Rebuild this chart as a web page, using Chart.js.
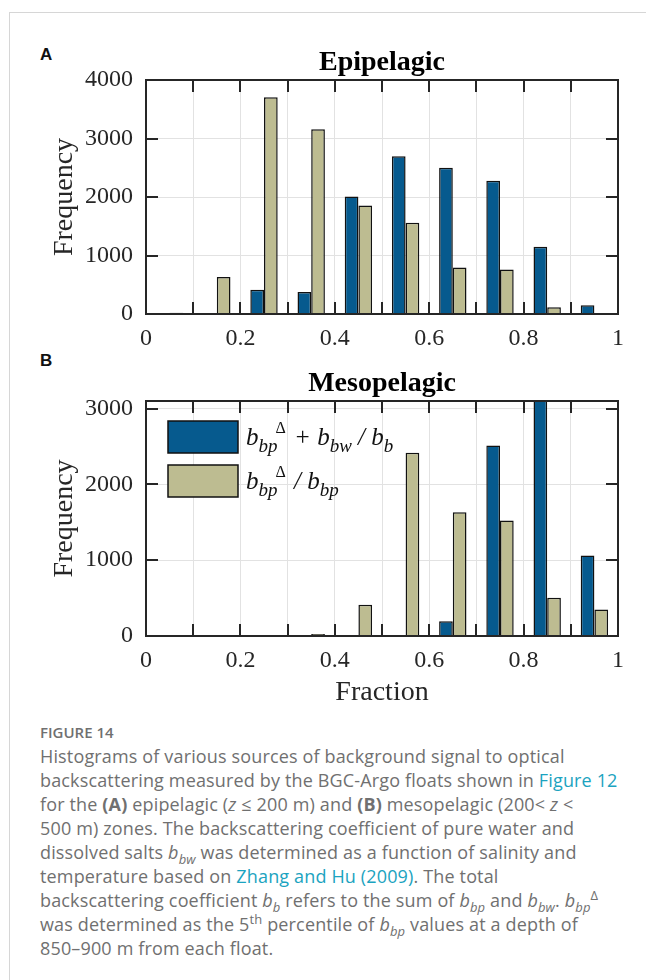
<!DOCTYPE html>
<html>
<head>
<meta charset="utf-8">
<script src="https://cdn.jsdelivr.net/npm/chart.js@4.4.1/dist/chart.umd.min.js"></script>
<style>
  body { margin: 0; width: 646px; height: 980px; background: #fff; position: relative; overflow: hidden; }
  .frame { position: absolute; left: 9px; top: 12px; right: 0; bottom: 0; border-top: 1px solid #d6d6d6; border-left: 1px solid #d6d6d6; }
  .panel-label { position: absolute; left: 40px; font: bold 17px "Liberation Sans", Arial, sans-serif; color: #111; line-height: 20px; }
  canvas { position: absolute; left: 0; }
  #caption { position: absolute; left: 40px; top: 720px; font-family: "Open Sans", sans-serif; font-size: 18px; letter-spacing: 0.15px; line-height: 24px; color: #707070; white-space: nowrap; }
  #caption .fig { font-size: 15px; font-weight: 600; letter-spacing: 0; }
  #caption a { color: #1ba3c0; text-decoration: none; }
  #caption sub, #caption sup { font-size: 0.72em; line-height: 0; }
</style>
</head>
<body>
<div class="frame"></div>
<div class="panel-label" style="top:45px">A</div>
<canvas id="epiChart" width="646" height="310" style="top:40px"></canvas>
<div class="panel-label" style="top:351px">B</div>
<canvas id="mesoChart" width="646" height="360" style="top:355px"></canvas>
<div id="caption">
  <div class="fig">FIGURE 14</div>
  Histograms of various sources of background signal to optical<br>
  backscattering measured by the BGC-Argo floats shown in <a>Figure 12</a><br>
  for the <b>(A)</b> epipelagic (<i>z</i> &le; 200 m) and <b>(B)</b> mesopelagic (200&lt; <i>z</i> &lt;<br>
  500 m) zones. The backscattering coefficient of pure water and<br>
  dissolved salts <i>b<sub>bw</sub></i> was determined as a function of salinity and<br>
  temperature based on <a>Zhang and Hu (2009)</a>. The total<br>
  backscattering coefficient <i>b<sub>b</sub></i> refers to the sum of <i>b<sub>bp</sub></i> and <i>b<sub>bw</sub></i>. <i>b<sub>bp</sub></i><sup>&Delta;</sup><br>
  was determined as the 5<sup>th</sup> percentile of <i>b<sub>bp</sub></i> values at a depth of<br>
  850&ndash;900 m from each float.
</div>
<script>
// histogram bins (fraction), 0.1 wide
const binCenters = [0.05, 0.15, 0.25, 0.35, 0.45, 0.55, 0.65, 0.75, 0.85, 0.95];

// (bbp_delta + bbw) / bb  and  bbp_delta / bbp
const epiTotal = [5, 5, 415, 376, 2009, 2697, 2498, 2276, 1149, 148];
const epiParticle = [20, 632, 3704, 3158, 1855, 1559, 797, 762, 114, 5];
const mesoTotal = [5, 5, 5, 5, 5, 5, 193, 2513, 3400, 1061];
const mesoParticle = [5, 5, 5, 26, 412, 2417, 1632, 1522, 504, 351];

// axis ticks
const xTickValues = [0, 0.1, 0.2, 0.3, 0.4, 0.5, 0.6, 0.7, 0.8, 0.9, 1];
const xTickLabels = ['0', '', '0.2', '', '0.4', '', '0.6', '', '0.8', '', '1'];
const epiYTicks = [0, 1000, 2000, 3000, 4000];
const mesoYTicks = [0, 1000, 2000, 3000];

// legend text pieces: [text, kind]
const legendTotal = [['b', 'main'], ['bp', 'sub'], ['\u0394', 'sup'], [' + b', 'main'], ['bw', 'sub'], [' / b', 'main'], ['b', 'sub']];
const legendParticle = [['b', 'main'], ['bp', 'sub'], ['\u0394', 'sup'], [' / b', 'main'], ['bp', 'sub']];

const blue = '#065a8e';
const tan = '#bdbc91';
const ink = '#262626';
const serif = '"Liberation Serif", "Times New Roman", serif';

Chart.defaults.font.family = serif;
Chart.defaults.color = ink;
Chart.defaults.animation = false;

// MATLAB style box with inward ticks on all four sides
const boxPlugin = {
  id: 'boxPlugin',
  afterDraw(chart) {
    const { ctx, chartArea: a, scales } = chart;
    const len = 12;
    ctx.save();
    ctx.strokeStyle = ink;
    ctx.lineWidth = 2;
    ctx.beginPath();
    scales.x.ticks.forEach(t => {
      const px = Math.round(scales.x.getPixelForValue(t.value));
      if (px <= a.left + 1 || px >= a.right - 1) return;
      ctx.moveTo(px, a.bottom); ctx.lineTo(px, a.bottom - len);
      ctx.moveTo(px, a.top); ctx.lineTo(px, a.top + len);
    });
    scales.y.ticks.forEach(t => {
      const py = Math.round(scales.y.getPixelForValue(t.value));
      if (py <= a.top + 1 || py >= a.bottom - 1) return;
      ctx.moveTo(a.left, py); ctx.lineTo(a.left + len, py);
      ctx.moveTo(a.right, py); ctx.lineTo(a.right - len, py);
    });
    ctx.stroke();
    ctx.strokeRect(a.left, a.top, a.width, a.height);
    ctx.restore();
  }
};

// legend with sub/superscripts, drawn inside panel B
const texLegend = {
  id: 'texLegend',
  afterDraw(chart, args, opts) {
    if (!opts.entries) return;
    const { ctx } = chart;
    ctx.save();
    opts.entries.forEach((entry, i) => {
      const top = opts.top + i * opts.gap;
      ctx.fillStyle = entry.color;
      ctx.fillRect(opts.left, top, opts.boxWidth, opts.boxHeight);
      ctx.strokeStyle = '#111';
      ctx.lineWidth = 1.5;
      ctx.strokeRect(opts.left, top, opts.boxWidth, opts.boxHeight);
      let x = opts.left + opts.boxWidth + 8;
      const base = top + 24;
      ctx.fillStyle = '#111';
      ctx.textBaseline = 'alphabetic';
      entry.parts.forEach(([txt, kind]) => {
        let y = base;
        if (kind === 'main') ctx.font = 'italic 25px ' + serif;
        if (kind === 'sub') { ctx.font = 'italic 19px ' + serif; y = base + 7; }
        if (kind === 'sup') { ctx.font = '16px ' + serif; y = base - 12; x -= 2; }
        ctx.fillText(txt, x, y);
        x += ctx.measureText(txt).width + (kind === 'sup' ? 2 : 0);
      });
    });
    ctx.restore();
  }
};

function makeHistogram(id, title, total, particle, yTicks, yMax, layout, legend) {
  const toPoints = vals => binCenters.map((x, i) => ({ x: x, y: vals[i] }));
  return new Chart(document.getElementById(id), {
    type: 'bar',
    data: {
      datasets: [
        { data: toPoints(total), backgroundColor: blue, borderColor: '#111', borderWidth: 1.5, clip: 0 },
        { data: toPoints(particle), backgroundColor: tan, borderColor: '#111', borderWidth: 1.5, clip: 0 }
      ]
    },
    options: {
      responsive: false,
      devicePixelRatio: 1,
      categoryPercentage: 0.58,
      barPercentage: 1.0,
      layout: { padding: { left: 44, right: 28, top: 0, bottom: 0 } },
      plugins: {
        legend: { display: false },
        tooltip: { enabled: false },
        title: {
          display: true, text: title, fullSize: false, color: '#000',
          font: { size: 28, weight: 'bold' },
          padding: layout.titlePadding
        },
        texLegend: legend || {}
      },
      scales: {
        x: {
          type: 'linear', min: 0, max: 1, offset: false,
          afterBuildTicks: s => { s.ticks = xTickValues.map(v => ({ value: v })); },
          afterFit: s => { s.height = layout.xHeight; },
          grid: { offset: false, color: '#e2e2e2', drawTicks: false },
          border: { display: false },
          ticks: { autoSkip: false, maxRotation: 0, padding: 10, font: { size: 24 }, callback: (v, i) => xTickLabels[i] },
          title: layout.xTitle || { display: false }
        },
        y: {
          min: 0, max: yMax,
          afterBuildTicks: s => { s.ticks = yTicks.map(v => ({ value: v })); },
          afterFit: s => { s.width = 102; },
          grid: { color: '#e2e2e2', drawTicks: false },
          border: { display: false },
          ticks: { padding: 13, font: { size: 24 }, callback: v => String(v) },
          title: { display: true, text: 'Frequency', font: { size: 28 }, padding: { top: 4, bottom: 4 } }
        }
      }
    },
    plugins: [boxPlugin, texLegend]
  });
}

makeHistogram('epiChart', 'Epipelagic', epiTotal, epiParticle, epiYTicks, 4000,
  { titlePadding: { top: 6, bottom: 0.4 }, xHeight: 36 });

makeHistogram('mesoChart', 'Mesopelagic', mesoTotal, mesoParticle, mesoYTicks, 3100,
  {
    titlePadding: { top: 11.5, bottom: 0.9 }, xHeight: 79,
    xTitle: { display: true, text: 'Fraction', font: { size: 28 }, padding: { top: 0, bottom: 6 } }
  },
  {
    entries: [
      { color: blue, parts: legendTotal },
      { color: tan, parts: legendParticle }
    ],
    left: 168, top: 66, gap: 44, boxWidth: 70, boxHeight: 32
  });
</script>
</body>
</html>
